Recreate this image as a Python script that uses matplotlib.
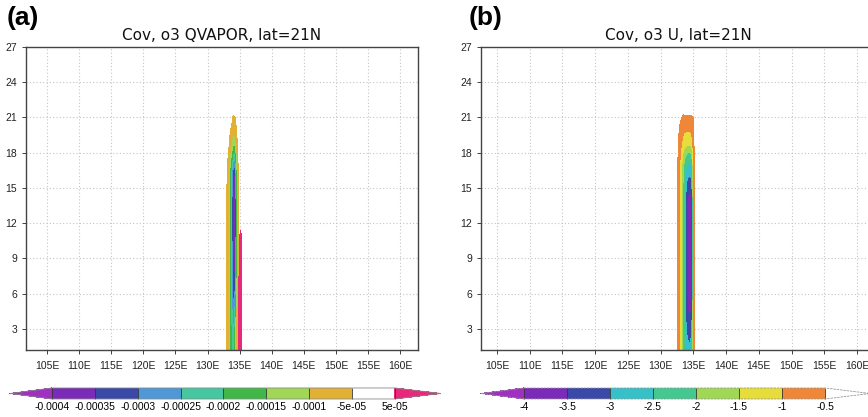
import numpy as np
import matplotlib
matplotlib.use('Agg')
import matplotlib.pyplot as plt
from matplotlib.colors import ListedColormap, BoundaryNorm

plt.rcParams['font.family'] = ['Liberation Sans', 'DejaVu Sans']

# ---- panel (a): Cov, o3 QVAPOR (values in units of 1e-5) ----
lon_a = [132.5, 133.0, 133.25, 133.5, 133.75, 134.0, 134.25, 134.5, 134.75, 134.95, 135.15, 135.35, 135.6]
lev_a = [1.2, 3, 5, 7, 9, 11, 12, 14, 16, 17, 18, 19, 20, 21, 22]
cov_a = [
    [0, -6, -11, -16, -21, -24, -18, -8, -2, 16, 10, 0, 0],
    [0, -6, -11, -16, -22, -26, -21, -10, -3, 15, 11, 0, 0],
    [0, -6, -11, -17, -24, -30, -27, -14, -4, 12, 14, 1, 0],
    [0, -6, -11, -18, -26, -33, -35, -20, -5, 9, 16, 2, 0],
    [0, -6, -11, -18, -27, -36, -39, -25, -6, 6, 17, 3, 0],
    [0, -6, -11, -19, -28, -37, -39, -27, -6, 2, 8, 2, 0],
    [0, -6, -11, -19, -28, -37, -39, -27, -6, 0, 0, 0, 0],
    [0, -5, -11, -19, -28, -37, -39, -27, -6, 0, 0, 0, 0],
    [0, -4, -9, -17, -26, -35, -37, -24, -6, 0, 0, 0, 0],
    [0, -3, -7, -14, -21, -28, -29, -18, -5, 0, 0, 0, 0],
    [0, -1, -5, -10, -15, -20, -21, -13, -4, 0, 0, 0, 0],
    [0, 0, -2, -6, -10, -13, -13, -8, -2, 0, 0, 0, 0],
    [0, 0, 0, -4, -6, -8, -8, -5, 0, 0, 0, 0, 0],
    [0, 0, 0, 0, -2, -6, -5.5, -2, 0, 0, 0, 0, 0],
    [0, 0, 0, 0, 0, 0, 0, 0, 0, 0, 0, 0, 0],
]
bounds_a = [-0.0004, -0.00035, -0.0003, -0.00025, -0.0002, -0.00015, -0.0001, -5e-05, 5e-05]
labels_a = ['-0.0004', '-0.00035', '-0.0003', '-0.00025', '-0.0002', '-0.00015', '-0.0001', '-5e-05', '5e-05']
colors_a = ['#7a2cb8', '#3a48a8', '#4f98d8', '#45c8a0', '#40b848', '#a0d855', '#e2b035', (1, 1, 1, 0)]
under_a = '#a030c0'
over_a = '#e8287a'

# ---- panel (b): Cov, o3 U ----
lon_b = [132.25, 132.5, 132.75, 133.0, 133.25, 133.5, 133.75, 134.0, 134.25, 134.5, 134.75, 135.0, 135.25, 135.5]
lev_b = [1.2, 2.5, 4, 6, 9, 12, 14, 15, 16, 17, 18, 19, 20, 21, 22]
cov_b = [
    [0, -0.3, -0.75, -1.25, -1.75, -2.2, -2.6, -2.85, -2.9, -2.9, -2.8, -1.3, 0, 0],
    [0, -0.3, -0.75, -1.25, -1.75, -2.25, -2.7, -3.0, -3.1, -3.1, -3.0, -1.4, 0, 0],
    [0, -0.3, -0.75, -1.25, -1.75, -2.3, -2.85, -3.3, -3.5, -3.5, -3.4, -1.5, 0, 0],
    [0, -0.3, -0.75, -1.25, -1.75, -2.3, -2.9, -3.5, -3.8, -3.85, -3.7, -1.6, 0, 0],
    [0, -0.3, -0.75, -1.25, -1.75, -2.3, -2.9, -3.55, -3.85, -3.9, -3.75, -1.6, 0, 0],
    [0, -0.3, -0.75, -1.25, -1.75, -2.3, -2.9, -3.55, -3.85, -3.9, -3.75, -1.6, 0, 0],
    [0, -0.3, -0.75, -1.25, -1.75, -2.3, -2.85, -3.45, -3.75, -3.8, -3.65, -1.6, 0, 0],
    [0, -0.3, -0.75, -1.25, -1.7, -2.2, -2.7, -3.15, -3.35, -3.4, -3.3, -1.5, 0, 0],
    [0, -0.3, -0.75, -1.2, -1.65, -2.1, -2.55, -2.9, -3.0, -3.0, -2.95, -1.4, 0, 0],
    [0, -0.25, -0.7, -1.1, -1.5, -1.9, -2.3, -2.5, -2.6, -2.6, -2.55, -1.2, 0, 0],
    [0, -0.2, -0.65, -1.0, -1.35, -1.6, -1.85, -1.95, -2.0, -2.0, -1.95, -1.0, 0, 0],
    [0, -0.1, -0.5, -0.8, -1.0, -1.1, -1.15, -1.2, -1.2, -1.2, -1.2, -0.75, 0, 0],
    [0, 0, -0.4, -0.7, -0.85, -0.95, -0.95, -0.95, -0.95, -0.95, -0.9, -0.6, 0, 0],
    [0, 0, 0, -0.3, -0.5, -0.65, -0.6, -0.6, -0.6, -0.6, -0.58, -0.5, 0, 0],
    [0, 0, 0, 0, 0, 0, 0, 0, 0, 0, 0, 0, 0, 0],
]
bounds_b = [-4, -3.5, -3, -2.5, -2, -1.5, -1, -0.5]
labels_b = ['-4', '-3.5', '-3', '-2.5', '-2', '-1.5', '-1', '-0.5']
colors_b = ['#7a2cb8', '#3a48a8', '#38c0c8', '#45c890', '#a0d855', '#e6dc3a', '#ee8838']
under_b = '#a030c0'
over_b = (1, 1, 1, 0)

xticks = list(range(105, 161, 5))
xticklabels = [f'{v}E' for v in xticks]
yticks = list(range(3, 28, 3))


def make_cmap(colors, under, over):
    cmap = ListedColormap(colors)
    cmap.set_under(under)
    cmap.set_over(over)
    return cmap


def draw_panel(ax, lon, lev, field, bounds, cmap, title, xlim):
    norm = BoundaryNorm(bounds, cmap.N)
    cs = ax.contourf(lon, lev, field, levels=bounds, cmap=cmap, norm=norm, extend='both')
    ax.set_xlim(*xlim)
    ax.set_ylim(1.2, 27)
    ax.set_xticks(xticks)
    ax.set_xticklabels(xticklabels)
    ax.set_yticks(yticks)
    ax.set_axisbelow(True)
    ax.grid(True, color='#c4c4c4', linestyle=(0, (1, 2)), linewidth=0.8)
    ax.tick_params(labelsize=7.5, length=3, width=0.6, colors='#222')
    ax.tick_params(axis='x', pad=5)
    for sp in ax.spines.values():
        sp.set_linewidth(1.0)
        sp.set_color('#444')
    ax.set_title(title, fontsize=11, pad=5, family='DejaVu Sans', color='#111')
    return cs


def draw_cbar(fig, cs, rect, fracs, labels, bounds, dashed=False):
    cax = fig.add_axes(rect)
    cb = fig.colorbar(cs, cax=cax, orientation='horizontal', extend='both',
                      extendfrac=fracs, drawedges=True)
    cb.set_ticks(bounds, labels=labels)
    cax.tick_params(length=0, labelsize=7.5, pad=2.5)
    cb.dividers.set_color('#333')
    cb.dividers.set_linewidth(0.6)
    if dashed:
        cb.outline.set_linestyle((0, (2, 2)))
        cb.outline.set_edgecolor('#999')
    else:
        cb.outline.set_edgecolor('#888')
    cb.outline.set_linewidth(0.6)
    return cb


fig = plt.figure(figsize=(8.68, 4.17), dpi=100)

ax_a = fig.add_axes([0.0300, 0.1607, 0.4516, 0.7266])
cs_a = draw_panel(ax_a, lon_a, lev_a, np.array(cov_a) * 1e-5, bounds_a,
                  make_cmap(colors_a, under_a, over_a),
                  'Cov, o3 QVAPOR, lat=21N', (101.73, 162.79))

ax_b = fig.add_axes([0.5541, 0.1607, 0.4543, 0.7266])
cs_b = draw_panel(ax_b, lon_b, lev_b, np.array(cov_b), bounds_b,
                  make_cmap(colors_b, under_b, over_b),
                  'Cov, o3 U, lat=21N', (102.55, 162.8))

draw_cbar(fig, cs_a, [0.0115, 0.0432, 0.4965, 0.0264], (0.1224, 0.1341), labels_a, bounds_a)
draw_cbar(fig, cs_b, [0.5541, 0.0432, 0.4482, 0.0264], (0.1429, 0.1495), labels_b, bounds_b, dashed=True)

fig.text(7 / 868, 1 - 6 / 417, '(a)', fontsize=19, fontweight='bold', va='top', ha='left')
fig.text(469 / 868, 1 - 6 / 417, '(b)', fontsize=19, fontweight='bold', va='top', ha='left')

fig.savefig('out.png', dpi=100)
